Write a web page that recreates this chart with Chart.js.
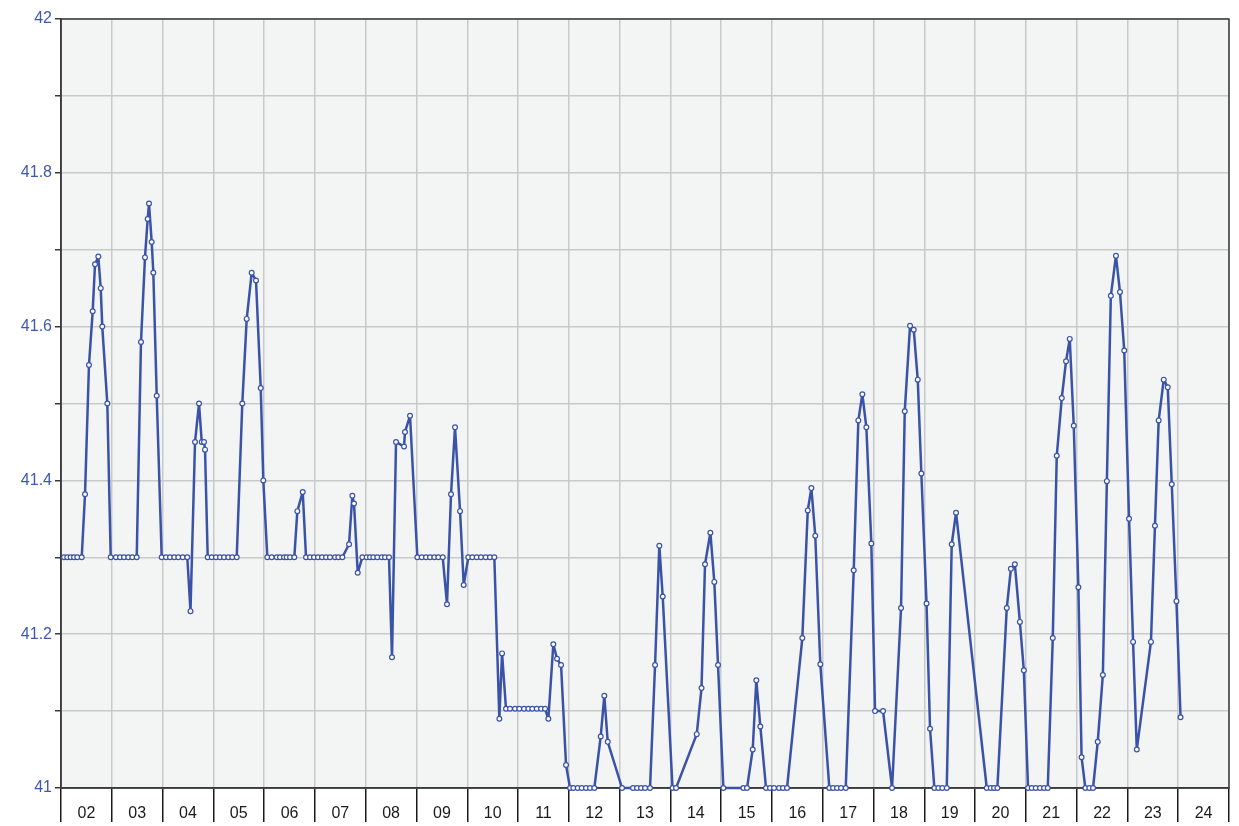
<!DOCTYPE html>
<html>
<head>
<meta charset="utf-8">
<script src="https://cdn.jsdelivr.net/npm/chart.js@4.4.0/dist/chart.umd.min.js"></script>
<style>
    body { margin: 0; background: #ffffff; }
    #grafico { display: block; }
</style>
</head>
<body>
<canvas id="grafico" width="1239" height="826"></canvas>
<script>
// rótulos dos dias no eixo x
const rotulosDias = ['02', '03', '04', '05', '06', '07', '08', '09', '10', '11', '12',
    '13', '14', '15', '16', '17', '18', '19', '20', '21', '22', '23', '24'];

// instante de cada leitura (em dias)
const instantes = [
    2.059, 2.124, 2.191, 2.256, 2.321, 2.408, 2.473, 2.551, 2.624, 2.670, 2.735, 2.782, 2.813, 2.912, 2.979,
    3.083, 3.162, 3.241, 3.325, 3.404, 3.491, 3.575, 3.654, 3.707, 3.733, 3.786, 3.818, 3.885, 3.983,
    4.068, 4.147, 4.231, 4.310, 4.397, 4.487, 4.550, 4.639, 4.718, 4.771, 4.816, 4.836, 4.889, 4.968,
    5.052, 5.131, 5.210, 5.295, 5.373, 5.460, 5.570, 5.657, 5.755, 5.840, 5.933, 5.984,
    6.063, 6.149, 6.248, 6.313, 6.392, 6.445, 6.510, 6.594, 6.654, 6.760, 6.825, 6.904, 6.982,
    7.061, 7.140, 7.219, 7.297, 7.396, 7.461, 7.540, 7.672, 7.737, 7.770, 7.843, 7.934,
    8.020, 8.085, 8.150, 8.229, 8.316, 8.381, 8.459, 8.518, 8.597, 8.755, 8.774, 8.873,
    9.017, 9.103, 9.188, 9.267, 9.352, 9.430, 9.517, 9.601, 9.680, 9.759, 9.858, 9.930,
    10.021, 10.100, 10.186, 10.271, 10.364, 10.448, 10.533, 10.632, 10.685, 10.763, 10.842, 10.941,
    11.025, 11.118, 11.203, 11.281, 11.368, 11.453, 11.531, 11.597, 11.695, 11.768, 11.847, 11.945,
    12.024, 12.089, 12.175, 12.254, 12.339, 12.418, 12.502, 12.628, 12.699, 12.766,
    13.048, 13.264, 13.343, 13.422, 13.501, 13.599, 13.698, 13.782, 13.849,
    14.042, 14.111, 14.519, 14.613, 14.682, 14.787, 14.865, 14.938,
    15.043, 15.437, 15.509, 15.621, 15.692, 15.771, 15.883, 15.962,
    16.041, 16.140, 16.218, 16.297, 16.598, 16.705, 16.776, 16.853, 16.952,
    17.130, 17.203, 17.281, 17.360, 17.453, 17.610, 17.701, 17.780, 17.859, 17.957,
    18.030, 18.188, 18.365, 18.542, 18.615, 18.719, 18.792, 18.871, 18.942,
    19.044, 19.113, 19.198, 19.277, 19.355, 19.442, 19.540, 19.625,
    20.230, 20.309, 20.374, 20.439, 20.624, 20.705, 20.783, 20.882, 20.960,
    21.043, 21.116, 21.195, 21.279, 21.358, 21.431, 21.530, 21.608, 21.707, 21.791, 21.864, 21.943,
    22.034, 22.097, 22.171, 22.250, 22.323, 22.415, 22.516, 22.595, 22.673, 22.774, 22.853, 22.937,
    23.032, 23.111, 23.184, 23.463, 23.542, 23.615, 23.715, 23.794, 23.873, 23.965,
    24.046
];

// valor medido em cada instante
const valores = [
    41.30, 41.30, 41.30, 41.30, 41.30, 41.30, 41.382, 41.55, 41.62, 41.681, 41.691, 41.65, 41.60, 41.50, 41.30,
    41.30, 41.30, 41.30, 41.30, 41.30, 41.30, 41.58, 41.69, 41.74, 41.76, 41.71, 41.67, 41.51, 41.30,
    41.30, 41.30, 41.30, 41.30, 41.30, 41.30, 41.23, 41.45, 41.50, 41.45, 41.45, 41.44, 41.30, 41.30,
    41.30, 41.30, 41.30, 41.30, 41.30, 41.30, 41.50, 41.61, 41.67, 41.66, 41.52, 41.40,
    41.30, 41.30, 41.30, 41.30, 41.30, 41.30, 41.30, 41.30, 41.36, 41.385, 41.30, 41.30, 41.30,
    41.30, 41.30, 41.30, 41.30, 41.30, 41.30, 41.30, 41.317, 41.38, 41.37, 41.28, 41.30,
    41.30, 41.30, 41.30, 41.30, 41.30, 41.30, 41.30, 41.17, 41.45, 41.444, 41.463, 41.484,
    41.30, 41.30, 41.30, 41.30, 41.30, 41.30, 41.30, 41.239, 41.382, 41.469, 41.36, 41.264,
    41.30, 41.30, 41.30, 41.30, 41.30, 41.30, 41.30, 41.09, 41.175, 41.103, 41.103, 41.103,
    41.103, 41.103, 41.103, 41.103, 41.103, 41.103, 41.103, 41.09, 41.187, 41.168, 41.16, 41.03,
    41.00, 41.00, 41.00, 41.00, 41.00, 41.00, 41.00, 41.067, 41.12, 41.06,
    41.00, 41.00, 41.00, 41.00, 41.00, 41.00, 41.16, 41.315, 41.249,
    41.00, 41.00, 41.07, 41.13, 41.291, 41.332, 41.268, 41.16,
    41.00, 41.00, 41.00, 41.05, 41.14, 41.08, 41.00, 41.00,
    41.00, 41.00, 41.00, 41.00, 41.195, 41.361, 41.39, 41.328, 41.161,
    41.00, 41.00, 41.00, 41.00, 41.00, 41.283, 41.478, 41.512, 41.469, 41.318,
    41.10, 41.10, 41.00, 41.234, 41.49, 41.601, 41.596, 41.531, 41.409,
    41.24, 41.077, 41.00, 41.00, 41.00, 41.00, 41.317, 41.358,
    41.00, 41.00, 41.00, 41.00, 41.234, 41.285, 41.291, 41.216, 41.153,
    41.00, 41.00, 41.00, 41.00, 41.00, 41.00, 41.195, 41.432, 41.507, 41.555, 41.584, 41.471,
    41.261, 41.04, 41.00, 41.00, 41.00, 41.06, 41.147, 41.399, 41.64, 41.692, 41.645, 41.569,
    41.35, 41.19, 41.05, 41.19, 41.341, 41.478, 41.531, 41.521, 41.395, 41.243,
    41.092
];

const corLinha = '#3a52a8';
const corRotuloY = '#4058b0';

// fundo cinza e moldura da área do gráfico
const fundoGrafico = {
    id: 'fundoGrafico',
    beforeDraw(chart) {
        const { ctx, chartArea: a } = chart;
        ctx.save();
        ctx.fillStyle = '#f3f5f4';
        ctx.fillRect(a.left, a.top, a.width, a.height);
        ctx.restore();
    },
    beforeDatasetsDraw(chart) {
        const { ctx, chartArea: a } = chart;
        ctx.save();
        ctx.strokeStyle = '#3a3a3a';
        ctx.lineWidth = 1.5;
        ctx.strokeRect(a.left, a.top, a.width, a.height);
        ctx.restore();
    }
};

function montarPontos() {
    return instantes.map((t, i) => ({ x: t, y: valores[i] }));
}

function gerarGrafico() {
    const ctx = document.getElementById('grafico');

    return new Chart(ctx, {
        type: 'line',
        data: {
            datasets: [{
                data: montarPontos(),
                borderColor: corLinha,
                borderWidth: 2.5,
                borderJoinStyle: 'round',
                pointRadius: 2.4,
                pointBorderWidth: 1.2,
                pointBackgroundColor: '#ffffff',
                pointBorderColor: corLinha,
                tension: 0,
                clip: false
            }]
        },
        options: {
            responsive: false,
            animation: false,
            layout: { padding: { top: 19, right: 10, left: 0, bottom: 0 } },
            plugins: {
                legend: { display: false },
                tooltip: { enabled: false }
            },
            scales: {
                x: {
                    type: 'linear',
                    min: 2,
                    max: 25,
                    afterFit: (scale) => { scale.height = 38; },
                    ticks: {
                        stepSize: 1,
                        autoSkip: false,
                        maxRotation: 0,
                        labelOffset: 25.4,
                        padding: -18,
                        color: '#1a1a1a',
                        font: { family: 'Liberation Sans, Arial, sans-serif', size: 16 },
                        callback: (v) => rotulosDias[v - 2] ?? ''
                    },
                    grid: {
                        color: '#c9c9c9',
                        lineWidth: 1.5,
                        tickColor: '#1a1a1a',
                        tickLength: 34,
                        tickWidth: 1.5
                    },
                    border: { display: true, color: '#3a3a3a', width: 1.5 }
                },
                y: {
                    min: 41,
                    max: 42,
                    afterFit: (scale) => { scale.width = 61; },
                    ticks: {
                        stepSize: 0.1,
                        autoSkip: false,
                        padding: 3,
                        color: corRotuloY,
                        font: { family: 'Liberation Sans, Arial, sans-serif', size: 16 },
                        callback: (v) => {
                            const d = Math.round(v * 10);
                            return d % 2 === 0 ? String(d / 10) : '';
                        }
                    },
                    grid: {
                        color: '#c9c9c9',
                        lineWidth: 1.5,
                        tickColor: '#3a3a3a',
                        tickLength: 6
                    },
                    border: { display: true, color: '#3a3a3a', width: 1.5 }
                }
            }
        },
        plugins: [fundoGrafico]
    });
}

gerarGrafico();
</script>
</body>
</html>
